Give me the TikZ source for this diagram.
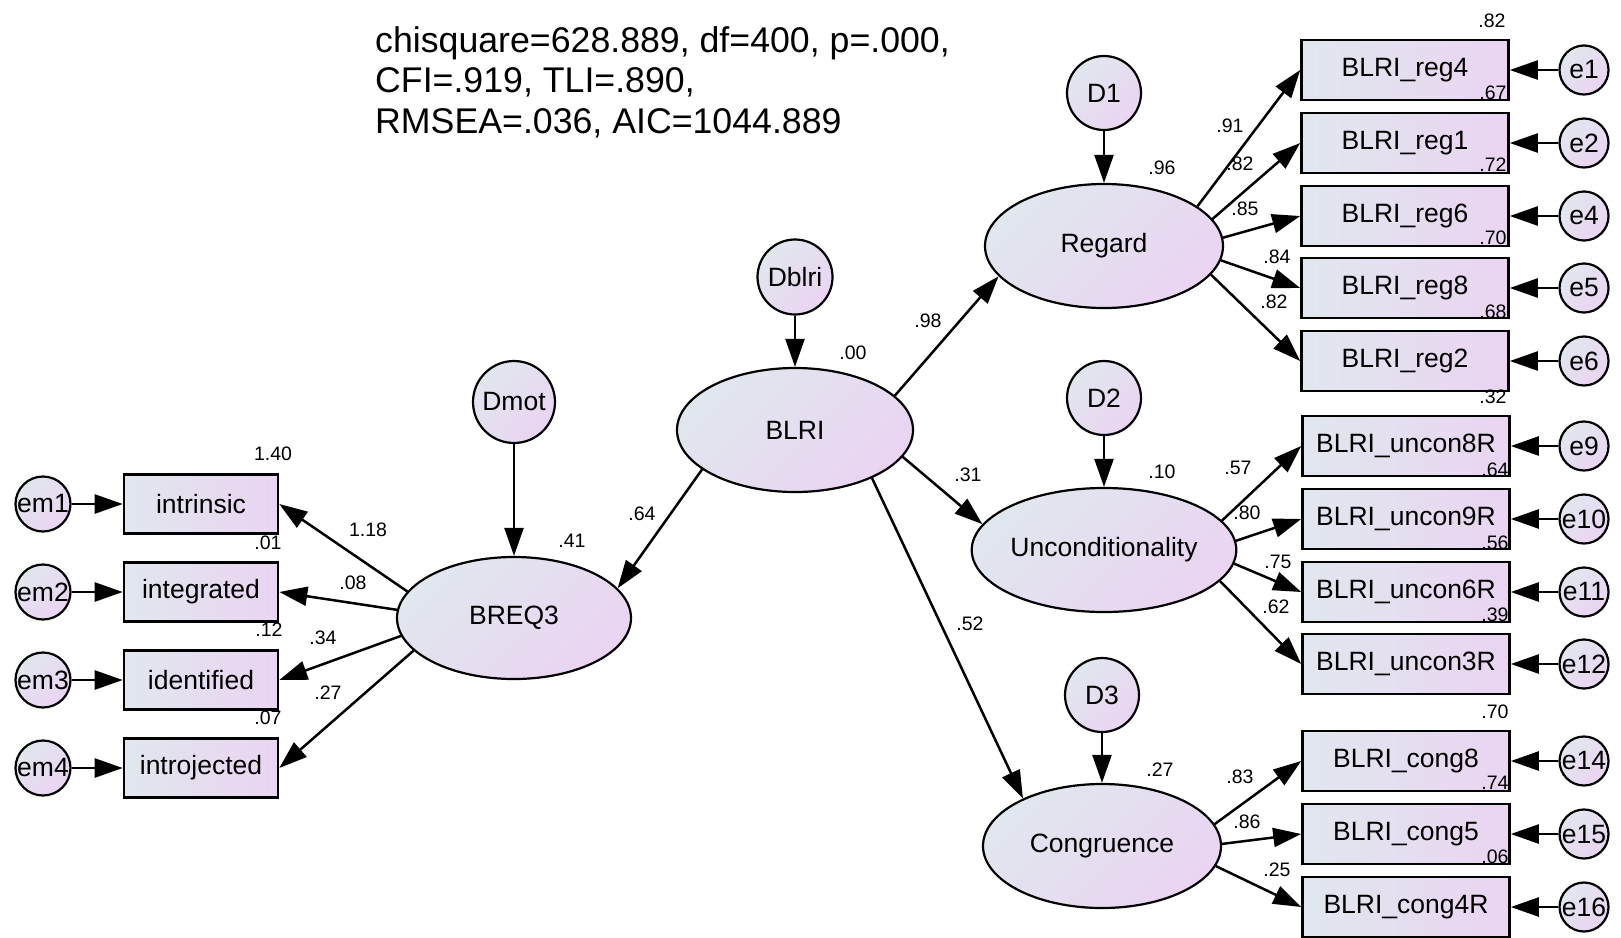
\documentclass[tikz,border=0pt]{standalone}
\usepackage{fontspec}
\setmainfont{Liberation Sans}
\usetikzlibrary{arrows.meta,shapes.geometric}
\definecolor{gl}{RGB}{225,231,238}
\definecolor{gr}{RGB}{234,212,242}
\begin{document}
\begin{tikzpicture}[x=1pt,y=1pt,
  lat/.style={draw, ellipse, line width=2.2pt, inner sep=0, top color=gl, bottom color=gr, shading angle=45, minimum width=236pt, minimum height=124pt, font=\fontsize{26.5}{30}\selectfont},
  obs/.style={draw, rectangle, line width=2.6pt, inner sep=0, left color=gl, right color=gr, minimum height=60pt, minimum width=207pt, font=\fontsize{26.5}{30}\selectfont},
  obsl/.style={obs, minimum width=154pt, minimum height=59pt},
  err/.style={draw, circle, line width=2.2pt, inner sep=0, top color=gl, bottom color=gr, shading angle=45, font=\fontsize{26.5}{30}\selectfont},
  lbl/.style={font=\fontsize{19.5}{22}\selectfont, inner sep=0},
  arr/.style={line width=2.5pt, -{Triangle[length=28pt,width=19pt]}}
]
\useasboundingbox (0,0) rectangle (1621,-937);
\node[anchor=north west, align=left, inner sep=0, font=\fontsize{35.7}{40.5}\selectfont] (title) at (375,-26)
  {chisquare=628.889, df=400, p=.000,\\CFI=.919, TLI=.890,\\RMSEA=.036, AIC=1044.889};

% latent variables
\node[lat, minimum width=234pt, minimum height=122pt] (BREQ3) at (514,-618) {BREQ3};
\node[lat] (BLRI) at (795,-430) {BLRI};
\node[lat, minimum width=238pt] (Regard) at (1104,-246) {Regard};
\node[lat, minimum width=238pt] (Uncon) at (1104,-550) {Unconditionality};
\node[lat, minimum width=238pt] (Cong) at (1102,-846) {Congruence};

% disturbances
\node[err, minimum size=82pt] (Dmot) at (514,-402) {Dmot};
\node[err, minimum size=75pt] (Dblri) at (795,-277) {Dblri};
\node[err, minimum size=74pt] (D1) at (1104,-93) {D1};
\node[err, minimum size=74pt] (D2) at (1104,-398) {D2};
\node[err, minimum size=74pt] (D3) at (1102,-695) {D3};

% left indicators
\node[obsl] (intrinsic) at (201,-504) {intrinsic};
\node[obsl] (integrated) at (201,-592) {integrated};
\node[obsl] (identified) at (201,-680) {identified};
\node[obsl] (introjected) at (201,-768) {introjected};
\node[err, minimum size=55pt] (em1) at (43,-504) {em1};
\node[err, minimum size=55pt] (em2) at (43,-592) {em2};
\node[err, minimum size=55pt] (em3) at (43,-680) {em3};
\node[err, minimum size=55pt] (em4) at (43,-768) {em4};

% right indicators
\node[obs] (reg4) at (1405,-70) {BLRI\_reg4};
\node[obs] (reg1) at (1405,-143) {BLRI\_reg1};
\node[obs] (reg6) at (1405,-216) {BLRI\_reg6};
\node[obs] (reg8) at (1405,-288) {BLRI\_reg8};
\node[obs] (reg2) at (1405,-361) {BLRI\_reg2};
\node[obs] (u8) at (1406,-446) {BLRI\_uncon8R};
\node[obs] (u9) at (1406,-519) {BLRI\_uncon9R};
\node[obs] (u6) at (1406,-592) {BLRI\_uncon6R};
\node[obs] (u3) at (1406,-664) {BLRI\_uncon3R};
\node[obs] (c8) at (1406,-761) {BLRI\_cong8};
\node[obs] (c5) at (1406,-834) {BLRI\_cong5};
\node[obs] (c4) at (1406,-907) {BLRI\_cong4R};

\foreach \n/\y in {e1/70, e2/143, e4/216, e5/288, e6/361, e9/446, e10/519, e11/592, e12/664, e14/761, e15/834, e16/907}
  \node[err, minimum size=49pt] (\n) at (1584,-\y) {\n};

% connectors
\draw[arr] (Dmot) -- (BREQ3);
\draw[arr] (Dblri) -- (BLRI);
\draw[arr] (D1) -- (Regard);
\draw[arr] (D2) -- (Uncon);
\draw[arr] (D3) -- (Cong);
\draw[arr] (BLRI.203) -- (BREQ3.16);
\draw[arr] (BLRI.19) -- (Regard.196);
\draw[arr] (BLRI.346) -- (Uncon.168);
\draw[arr] (BLRI.328) -- (Cong.149);

\draw[arr] (BREQ3.166) -- (intrinsic.east);
\draw[arr] (BREQ3.176) -- (integrated.east);
\draw[arr] (BREQ3.189) -- (identified.east);
\draw[arr] (BREQ3.198) -- (introjected.east);
\draw[arr] (em1) -- (intrinsic.west);
\draw[arr] (em2) -- (integrated.west);
\draw[arr] (em3) -- (identified.west);
\draw[arr] (em4) -- (introjected.west);

\draw[arr] (Regard.23) -- (reg4.west);
\draw[arr] (Regard.14) -- (reg1.west);
\draw[arr] (Regard.4) -- (reg6.west);
\draw[arr] (Regard.-7) -- (reg8.west);
\draw[arr] (Regard.-15) -- (reg2.west);
\draw[arr] (Uncon.14) -- (u8.west);
\draw[arr] (Uncon.4) -- (u9.west);
\draw[arr] (Uncon.-6) -- (u6.west);
\draw[arr] (Uncon.-15) -- (u3.west);
\draw[arr] (Cong.11) -- (c8.west);
\draw[arr] (Cong.1) -- (c5.west);
\draw[arr] (Cong.-10) -- (c4.west);

\foreach \e/\b in {e1/reg4, e2/reg1, e4/reg6, e5/reg8, e6/reg2, e9/u8, e10/u9, e11/u6, e12/u3, e14/c8, e15/c5, e16/c4}
  \draw[arr] (\e) -- (\b.east);

% labels
\foreach \nm/\x/\y/\t in {
  r1/1492/21/.82, r2/1493/93/.67, r3/1493/165/.72, r4/1493/238/.70, r5/1493/312/.68, r6/1493/397/.32,
  r7/1495/470/.64, r8/1495/543/.56, r9/1495/615/.39, r10/1495/712/.70, r11/1495/783/.74, r12/1495/857/.06,
  s1/273/454/1.40, s2/268/543/.01, s3/269/630/.12, s4/268/718/.07,
  w1/368/530/1.18, w2/353/583/.08, w3/323/638/.34, w4/328/693/.27,
  t1/572/541/.41, t2/642/514/.64, t3/853/353/.00, t4/928/321/.98, t5/968/475/.31, t6/970/624/.52,
  t7/1162/168/.96, t8/1162/472/.10, t9/1160/770/.27,
  f1/1230/126/.91, f2/1240/164/.82, f3/1245/209/.85, f4/1277/257/.84, f5/1274/302/.82,
  f6/1238/468/.57, f7/1247/513/.80, f8/1278/562/.75, f9/1276/607/.62,
  f10/1240/777/.83, f11/1247/822/.86, f12/1277/870/.25}
  \node[lbl] (\nm) at (\x,-\y) {\t};
\end{tikzpicture}
\end{document}
